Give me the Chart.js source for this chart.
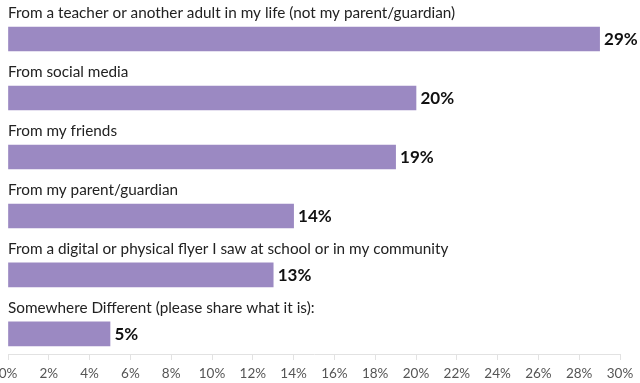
<!DOCTYPE html>
<html>
<head>
<meta charset="utf-8">
<script src="https://cdn.jsdelivr.net/npm/chart.js@4/dist/chart.umd.min.js"></script>
<style>
  html, body { margin: 0; padding: 0; background: #fff; }
  #wrap { width: 640px; height: 383px; }
</style>
</head>
<body>
<div id="wrap"><canvas id="grafica"></canvas></div>
<script>
// respuestas y porcentajes
const categorias = [
    'From a teacher or another adult in my life (not my parent/guardian)',
    'From social media',
    'From my friends',
    'From my parent/guardian',
    'From a digital or physical flyer I saw at school or in my community',
    'Somewhere Different (please share what it is):'
];
const porcentajes = [29, 20, 19, 14, 13, 5];
const ticksX = [0, 2, 4, 6, 8, 10, 12, 14, 16, 18, 20, 22, 24, 26, 28, 30];

const FUENTE = 'Lato, "Open Sans", sans-serif';

// texto de la categoría encima de cada barra y valor al final
const etiquetasPlugin = {
    id: 'etiquetas',
    afterDatasetsDraw(chart) {
        const ctx = chart.ctx;
        const meta = chart.getDatasetMeta(0);
        ctx.save();
        meta.data.forEach((bar, i) => {
            const top = bar.y - bar.height / 2;
            ctx.font = '15.3px ' + FUENTE;
            ctx.fillStyle = '#222';
            ctx.textAlign = 'left';
            ctx.textBaseline = 'alphabetic';
            ctx.fillText(categorias[i], chart.chartArea.left, top - 9);

            ctx.font = 'bold 17px ' + FUENTE;
            ctx.fillStyle = '#111';
            ctx.textBaseline = 'middle';
            ctx.fillText(porcentajes[i] + '%', bar.x + 4.5, bar.y + 1);
        });
        ctx.restore();
    }
};

const ctx = document.getElementById('grafica').getContext('2d');
new Chart(ctx, {
    type: 'bar',
    data: {
        datasets: [{
            data: porcentajes.map((v, i) => ({ x: v, y: i })),
            backgroundColor: '#9b89c2',
            borderWidth: 0,
            barThickness: 24
        }]
    },
    options: {
        indexAxis: 'y',
        responsive: true,
        maintainAspectRatio: false,
        animation: false,
        layout: { padding: { left: 8, right: 20, top: 9.5, bottom: 0 } },
        plugins: {
            legend: { display: false },
            tooltip: { enabled: false }
        },
        scales: {
            y: {
                type: 'linear',
                display: false,
                offset: false,
                reverse: true,
                min: -0.5,
                max: 5.34
            },
            x: {
                type: 'linear',
                min: 0,
                max: 30,
                afterBuildTicks: (scale) => { scale.ticks = ticksX.map(v => ({ value: v })); },
                afterFit: (scale) => {
                    scale.height = 29;
                    scale.paddingLeft = 0;
                    scale.paddingRight = 0;
                },
                border: { display: true, color: '#e2e2e2', width: 1 },
                grid: { drawOnChartArea: false, drawTicks: true, tickLength: 6, color: '#e2e2e2' },
                ticks: {
                    padding: 6,
                    color: '#555',
                    font: { family: FUENTE, size: 13.5 },
                    maxRotation: 0,
                    autoSkip: false,
                    callback: (v) => v + '%'
                }
            }
        }
    },
    plugins: [etiquetasPlugin]
});
</script>
</body>
</html>
